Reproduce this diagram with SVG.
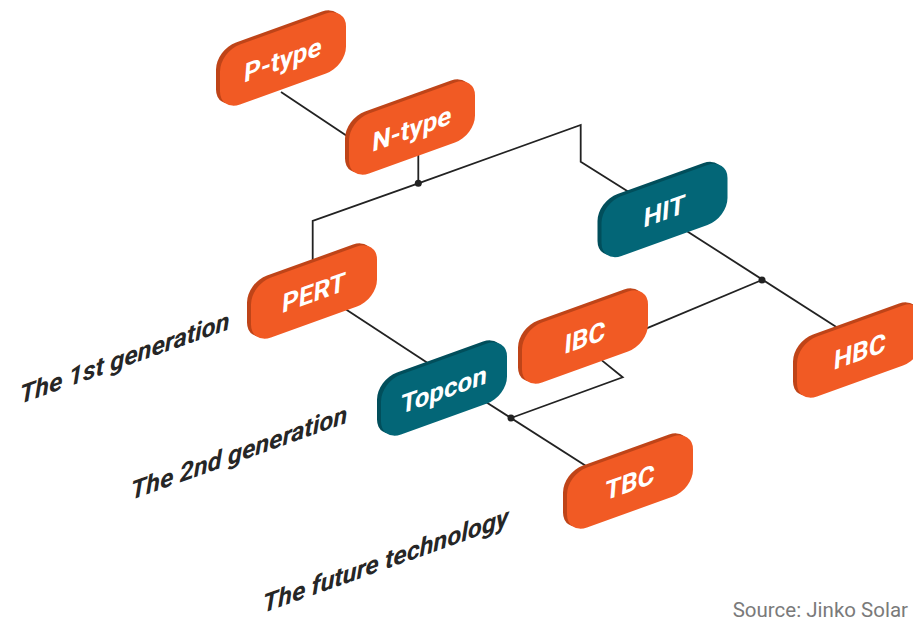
<svg xmlns="http://www.w3.org/2000/svg" xmlns:xlink="http://www.w3.org/1999/xlink" width="913" height="621" viewBox="0 0 913 621">
<style>
.o-f{fill:#F15A24}.o-d{fill:#BF4418}
.t-f{fill:#036677}.t-d{fill:#014E5B}
.lbl{font-family:Roboto,"Liberation Sans",sans-serif;font-weight:bold;font-size:26px;fill:#ffffff;text-anchor:middle}
.gen{font-family:Roboto,"Liberation Sans",sans-serif;font-weight:bold;font-style:italic;font-size:25.5px;fill:#262626}
.src{font-family:Roboto,"Liberation Sans",sans-serif;font-size:20.5px;fill:#7a7a7a;text-anchor:end}
.conn path{fill:none;stroke:#222;stroke-width:1.8}
.conn circle{fill:#222}
</style>
<defs>
<rect id="face" x="-63" y="-30" width="126" height="60" rx="20" ry="20" transform="matrix(1,-0.358,0,1,0,0)"/>
</defs>
<rect width="913" height="621" fill="#ffffff"/>
<g id="connectors" class="conn">
<path d="M281,92 L356,142"/>
<path d="M418.3,150 V183.3"/>
<path d="M418.3,183.3 L312.7,221 V270"/>
<path d="M418.3,183.3 L580.7,125 V161.7 L632,194"/>
<path d="M680,226.7 L850,335.8"/>
<path d="M762,280 L640,331.2"/>
<path d="M600,358.9 L622.7,377.3 L511,418"/>
<path d="M480,398.2 L590,468.6"/>
<path d="M340,305.4 L430,364.6"/>
<circle cx="418.3" cy="183.3" r="3.5"/>
<circle cx="762" cy="280" r="3.5"/>
<circle cx="511" cy="418" r="3.5"/>
</g>
<g id="node-ptype" transform="translate(283,59)">
<use xlink:href="#face" class="o-d" x="-4" y="-2"/><use xlink:href="#face" class="o-f"/>
<text class="lbl" transform="matrix(1,-0.358,-0.08,1.03,0,0)" y="9.5">P-type</text>
</g>
<g id="node-ntype" transform="translate(412,128)">
<use xlink:href="#face" class="o-d" x="-4" y="-2"/><use xlink:href="#face" class="o-f"/>
<text class="lbl" transform="matrix(1,-0.358,-0.08,1.03,0,0)" y="9.5">N-type</text>
</g>
<g id="node-hit" transform="translate(664.5,210.5)">
<use xlink:href="#face" class="t-d" x="-4" y="-2"/><use xlink:href="#face" class="t-f"/>
<text class="lbl" transform="matrix(1,-0.358,-0.08,1.03,0,0)" y="9.5">HIT</text>
</g>
<g id="node-hbc" transform="translate(860,351)">
<use xlink:href="#face" class="o-d" x="-4" y="-2"/><use xlink:href="#face" class="o-f"/>
<text class="lbl" transform="matrix(1,-0.358,-0.08,1.03,0,0)" y="9.5">HBC</text>
</g>
<g id="node-pert" transform="translate(314,292)">
<use xlink:href="#face" class="o-d" x="-4" y="-2"/><use xlink:href="#face" class="o-f"/>
<text class="lbl" transform="matrix(1,-0.358,-0.08,1.03,0,0)" y="9.5">PERT</text>
</g>
<g id="node-ibc" transform="translate(585,337)">
<use xlink:href="#face" class="o-d" x="-4" y="-2"/><use xlink:href="#face" class="o-f"/>
<text class="lbl" transform="matrix(1,-0.358,-0.08,1.03,0,0)" y="9.5">IBC</text>
</g>
<g id="node-topcon" transform="translate(444,389)">
<use xlink:href="#face" class="t-d" x="-4" y="-2"/><use xlink:href="#face" class="t-f"/>
<text class="lbl" transform="matrix(1,-0.358,-0.08,1.03,0,0)" y="9.5">Topcon</text>
</g>
<g id="node-tbc" transform="translate(630,482)">
<use xlink:href="#face" class="o-d" x="-4" y="-2"/><use xlink:href="#face" class="o-f"/>
<text class="lbl" transform="matrix(1,-0.358,-0.08,1.03,0,0)" y="9.5">TBC</text>
</g>
<g id="labels">
<text class="gen" transform="matrix(1,-0.358,0,1,20,404)">The 1st generation</text>
<text class="gen" transform="matrix(1,-0.358,0,1,131,500)">The 2nd generation</text>
<text class="gen" transform="matrix(1,-0.358,0,1,263,613)">The future technology</text>
<text class="src" x="908" y="617">Source: Jinko Solar</text>
</g>
</svg>
